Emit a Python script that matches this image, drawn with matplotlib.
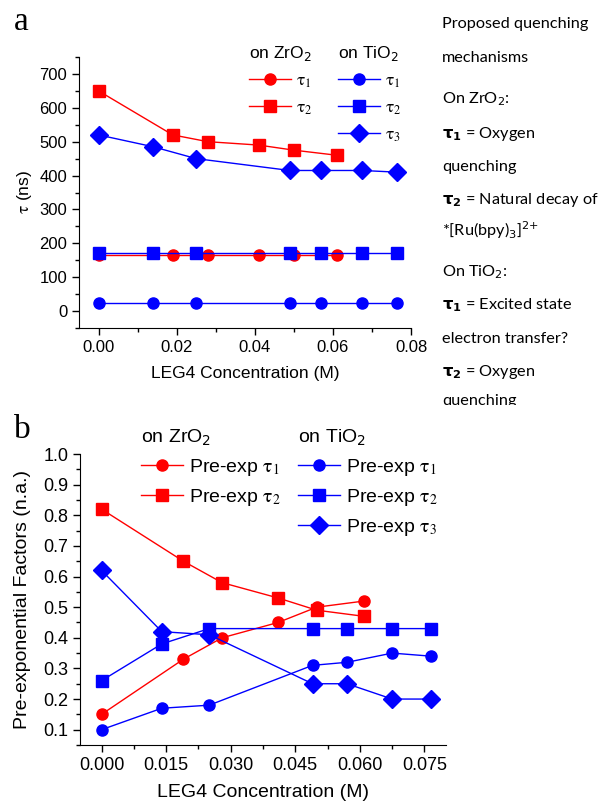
import matplotlib
matplotlib.use("Agg")
import matplotlib.pyplot as plt
from matplotlib.ticker import MultipleLocator
from matplotlib.transforms import Bbox, TransformedBbox

plt.rcParams['font.family'] = ['Liberation Sans', 'DejaVu Sans']
plt.rcParams['mathtext.fontset'] = 'dejavusans'

# ---------------- data ----------------
# panel a: lifetimes (ns)
zr_conc = [0.0, 0.019, 0.028, 0.041, 0.050, 0.061]
ti_conc = [0.0, 0.014, 0.025, 0.049, 0.057, 0.0675, 0.0765]
zr_tau1 = [165, 165, 165, 165, 165, 165]
zr_tau2 = [650, 520, 500, 490, 475, 460]
ti_tau1 = [25, 25, 25, 25, 25, 25, 25]
ti_tau2 = [170, 170, 170, 170, 170, 170, 170]
ti_tau3 = [520, 485, 450, 415, 415, 415, 410]

# panel b: pre-exponential factors
zr_pre1 = [0.15, 0.33, 0.40, 0.45, 0.50, 0.52]
zr_pre2 = [0.82, 0.65, 0.58, 0.53, 0.49, 0.47]
ti_pre1 = [0.10, 0.17, 0.18, 0.31, 0.32, 0.35, 0.34]
ti_pre2 = [0.26, 0.38, 0.43, 0.43, 0.43, 0.43, 0.43]
ti_pre3 = [0.62, 0.42, 0.41, 0.25, 0.25, 0.20, 0.20]

a_ticks = [0, 100, 200, 300, 400, 500, 600, 700]
b_ticks = [0.1, 0.2, 0.3, 0.4, 0.5, 0.6, 0.7, 0.8, 0.9, 1.0]

notes = [
    ("Proposed quenching", 24),
    ("mechanisms", 58),
    ("On ZrO$_2$:", 99),
    (r"$\mathbf{\tau_1}$ = Oxygen", 134),
    ("quenching", 167),
    (r"$\mathbf{\tau_2}$ = Natural decay of", 200),
    (r"*[Ru(bpy)$_3$]$^{2{+}}$", 230),
    ("On TiO$_2$:", 272),
    (r"$\mathbf{\tau_1}$ = Excited state", 305),
    ("electron transfer?", 339),
    (r"$\mathbf{\tau_2}$ = Oxygen", 372),
    ("quenching", 401),
]

RED = '#ff0000'
BLUE = '#0000ff'
W, H = 602, 805

fig = plt.figure(figsize=(W / 100, H / 100), dpi=100)

def px(x0, y0, x1, y1):
    return [x0 / W, 1 - y1 / H, (x1 - x0) / W, (y1 - y0) / H]

def style_axes(ax, fs):
    ax.spines['top'].set_visible(False)
    ax.spines['right'].set_visible(False)
    ax.tick_params(which='major', direction='out', length=5, width=1, labelsize=fs)
    ax.tick_params(which='minor', direction='out', length=3, width=1)

lkw = dict(lw=1.0, markersize=8)
dkw = dict(lw=1.0, markersize=9)

def make_leg(ax, handles, title, x, y, fs, hl, ls, keep):
    leg = ax.legend(handles=handles, title=title, loc='upper left',
                    bbox_to_anchor=(x / W, 1 - y / H), bbox_transform=fig.transFigure,
                    frameon=False, fontsize=fs, title_fontsize=fs, alignment='left',
                    borderpad=0, borderaxespad=0, handlelength=hl, handletextpad=0.3,
                    labelspacing=ls)
    for t in leg.get_texts():
        t.set_math_fontfamily('stix')
    if keep:
        ax.add_artist(leg)
    return leg

# ---------------- panel a ----------------
axa = fig.add_axes(px(79, 57, 411, 328))
la1, = axa.plot(zr_conc, zr_tau1, '-o', color=RED, label=r'$\mathrm{\tau}_1$', **lkw)
la2, = axa.plot(zr_conc, zr_tau2, '-s', color=RED, label=r'$\mathrm{\tau}_2$', **lkw)
lb1, = axa.plot(ti_conc, ti_tau1, '-o', color=BLUE, label=r'$\mathrm{\tau}_1$', **lkw)
lb2, = axa.plot(ti_conc, ti_tau2, '-s', color=BLUE, label=r'$\mathrm{\tau}_2$', **lkw)
lb3, = axa.plot(ti_conc, ti_tau3, '-D', color=BLUE, label=r'$\mathrm{\tau}_3$', **dkw)
axa.set_xlim(-0.005, 0.08)
axa.set_ylim(-50, 750)
axa.set_yticks(a_ticks)
axa.xaxis.set_major_locator(MultipleLocator(0.02))
axa.xaxis.set_minor_locator(MultipleLocator(0.01))
axa.yaxis.set_minor_locator(MultipleLocator(50))
axa.xaxis.set_major_formatter(plt.FormatStrFormatter('%.2f'))
style_axes(axa, 12)
axa.set_xlabel('LEG4 Concentration (M)', fontsize=12.5, labelpad=8)
axa.set_ylabel(r'$\mathrm{\tau}$ (ns)', fontsize=12.5, labelpad=4, math_fontfamily='stix')

make_leg(axa, [la1, la2], 'on ZrO$_2$', 249, 44, 12.5, 2.4, 0.6, True)
make_leg(axa, [lb1, lb2, lb3], 'on TiO$_2$', 338, 44, 12.5, 2.4, 0.6, False)

# ---------------- panel b ----------------
axb = fig.add_axes(px(80, 454, 446, 745))
pa1, = axb.plot(zr_conc, zr_pre1, '-o', color=RED, label=r'Pre-exp $\mathrm{\tau}_1$', **lkw)
pa2, = axb.plot(zr_conc, zr_pre2, '-s', color=RED, label=r'Pre-exp $\mathrm{\tau}_2$', **lkw)
pb1, = axb.plot(ti_conc, ti_pre1, '-o', color=BLUE, label=r'Pre-exp $\mathrm{\tau}_1$', **lkw)
pb2, = axb.plot(ti_conc, ti_pre2, '-s', color=BLUE, label=r'Pre-exp $\mathrm{\tau}_2$', **lkw)
pb3, = axb.plot(ti_conc, ti_pre3, '-D', color=BLUE, label=r'Pre-exp $\mathrm{\tau}_3$', **dkw)
axb.set_xlim(-0.005, 0.08)
axb.set_ylim(0.05, 1.0)
axb.set_yticks(b_ticks)
axb.xaxis.set_major_locator(MultipleLocator(0.015))
axb.xaxis.set_minor_locator(MultipleLocator(0.0075))
axb.yaxis.set_minor_locator(MultipleLocator(0.05))
axb.xaxis.set_major_formatter(plt.FormatStrFormatter('%.3f'))
axb.yaxis.set_major_formatter(plt.FormatStrFormatter('%.1f'))
style_axes(axb, 13)
axb.set_xlabel('LEG4 Concentration (M)', fontsize=14, labelpad=7)
axb.set_ylabel('Pre-exponential Factors (n.a.)', fontsize=14, labelpad=9)

make_leg(axb, [pa1, pa2], 'on ZrO$_2$', 141, 428, 14, 2.15, 0.45, True)
make_leg(axb, [pb1, pb2, pb3], 'on TiO$_2$', 298, 428, 14, 2.15, 0.45, False)

# ---------------- panel letters ----------------
fig.text(14 / W, 1 - 22 / H, 'a', fontsize=24, family='Liberation Serif', va='center')
fig.text(14 / W, 1 - 430 / H, 'b', fontsize=24, family='Liberation Serif', va='center')

# ---------------- notes ----------------
clip = TransformedBbox(Bbox([[0, 1 - 405 / H], [1, 1]]), fig.transFigure)
for txt, y in notes:
    t = fig.text(442 / W, 1 - y / H, txt, fontsize=11.7, family=['Lato', 'DejaVu Sans'],
                 va='center', ha='left', math_fontfamily='dejavusans')
    t.set_clip_box(clip)
    t.set_clip_on(True)

fig.savefig('out.png', dpi=100)
